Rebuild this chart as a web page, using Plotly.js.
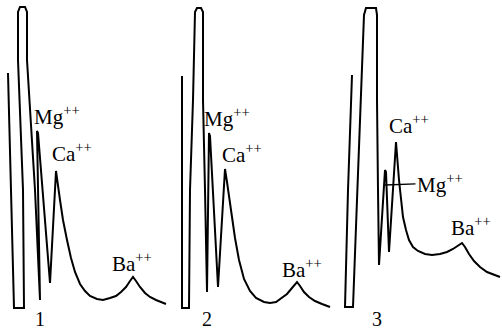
<!DOCTYPE html>
<html><head><meta charset="utf-8">
<script src="https://cdn.plot.ly/plotly-3.0.1.min.js"></script>
<style>html,body{margin:0;padding:0;background:#fff}#chart{width:502px;height:331px}</style>
</head><body><div id="chart"></div>
<script>
// Chromatogram 1: time (arbitrary units) and detector response
const time1 = [8,11,14,24,23,18,18,20,25,27,27,35,40,37,38,50,56,60,63,67,71,75,80,85,90,97,103,110,116,121,126,130,133,136,140,145,150,156,161,166];
const resp1 = [235,118,0,0,118,248,296,301,301,296,248,118,8,177,175,25,137,108,88,68,50,36,24,17,12,9,8,10,12,16,21,27,31,27,21,15,11,8,6,4];
// Chromatogram 2
const time2 = [12,12,12,19,20,23,25,27,31,33,33,35,37,39,40,48,55,57,61,65,69,74,80,86,94,100,106,112,117,122,127,130,134,139,145,152,160];
const resp2 = [232,118,0,0,118,208,296,300,300,296,208,118,16,175,172,21,139,126,98,70,48,29,17,10,6,5,6,10,14,20,26,22,16,11,7,4,1];
// Chromatogram 3
const time3 = [12,8,5,13,17,21,24,26,36,37,37,38,39,45,46,49,56,59,61,63,66,69,73,78,85,92,100,107,113,118,122,125,129,134,140,147,154,160];
const resp3 = [233,118,1,1,108,208,293,300,300,293,208,118,43,138,136,56,166,128,108,91,78,68,61,57,54,53,54,56,59,62,65,61,54,47,41,36,33,31];

// Peak labels per panel: [text, time, response]
const panelNames = ['1','2','3'];
const panelNameTimes = [40,37,37];
const labels1 = [['Mg<sup>++</sup>',57,193],['Ca<sup>++</sup>',72,156],['Ba<sup>++</sup>',132,46]];
const labels2 = [['Mg<sup>++</sup>',57,191],['Ca<sup>++</sup>',72,155],['Ba<sup>++</sup>',132,40]];
const labels3 = [['Ca<sup>++</sup>',69,184],['Ba<sup>++</sup>',131,82]];
const leader3 = ['Mg<sup>++</sup>',45,123];

const lineStyle = {color:'#000', width:2};
const traces = [
  {x:time1, y:resp1, xaxis:'x', yaxis:'y', mode:'lines', line:lineStyle, cliponaxis:false, hoverinfo:'skip'},
  {x:time2, y:resp2, xaxis:'x2', yaxis:'y', mode:'lines', line:lineStyle, cliponaxis:false, hoverinfo:'skip'},
  {x:time3, y:resp3, xaxis:'x3', yaxis:'y', mode:'lines', line:lineStyle, cliponaxis:false, hoverinfo:'skip'}
];

const font = {family:'Liberation Serif, Times New Roman, serif', size:21, color:'#000'};
const numFont = {family:'Liberation Serif, Times New Roman, serif', size:20, color:'#000'};
const xrefs = ['x','x2','x3'];
const ann = [];
[labels1,labels2,labels3].forEach((ls,i)=>{
  ls.forEach(l=>ann.push({text:l[0], x:l[1], y:l[2], xref:xrefs[i], yref:'y', showarrow:false, font:font}));
});
panelNames.forEach((n,i)=>ann.push({text:n, x:panelNameTimes[i], y:-23, yanchor:'bottom', borderpad:0,
  xref:xrefs[i], yref:'y', showarrow:false, font:numFont}));
ann.push({text:leader3[0], x:leader3[1], y:leader3[2], xref:'x3', yref:'y', showarrow:true,
  arrowhead:0, arrowwidth:1.3, arrowcolor:'#000', standoff:0, ax:55, ay:-2, font:font});

const ax = (d,r)=>({domain:d, range:r, visible:false, fixedrange:true});
const layout = {
  width:502, height:331, margin:{l:0,r:0,t:0,b:0},
  paper_bgcolor:'#fff', plot_bgcolor:'#fff', showlegend:false,
  xaxis: ax([0,170/502],[0,170]),
  xaxis2: Object.assign(ax([170/502,340/502],[0,170]),{anchor:'y'}),
  xaxis3: Object.assign(ax([340/502,1],[0,162]),{anchor:'y'}),
  yaxis: {range:[-23,308], visible:false, fixedrange:true},
  annotations: ann
};
Plotly.newPlot('chart', traces, layout, {staticPlot:true, displayModeBar:false});
</script>
</body></html>
